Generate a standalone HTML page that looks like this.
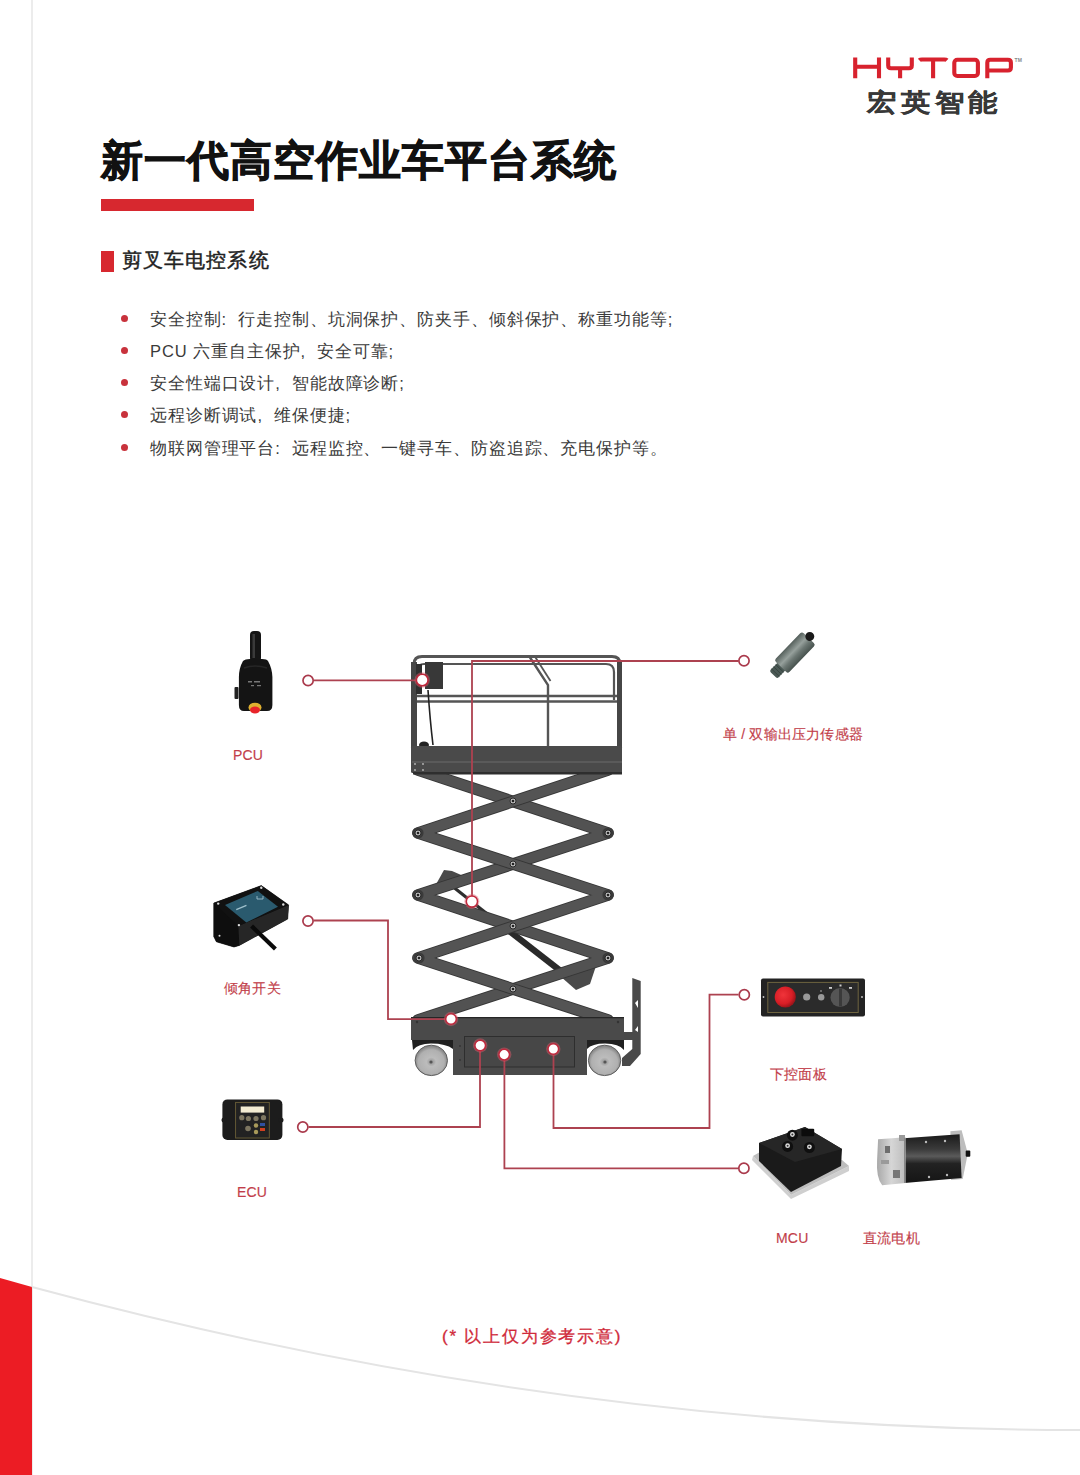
<!DOCTYPE html>
<html><head><meta charset="utf-8">
<style>
html,body{margin:0;padding:0;background:#fff;}
body{width:1080px;height:1475px;position:relative;overflow:hidden;font-family:"Liberation Sans",sans-serif;}
.abs{position:absolute;white-space:nowrap;}
.title{left:101px;top:140px;font-size:42px;line-height:42px;font-weight:bold;color:#111;letter-spacing:1px;-webkit-text-stroke:0.9px #111;}
.bar{left:101px;top:199px;width:153px;height:12px;background:#d7282f;}
.sq{left:101px;top:251px;width:13px;height:21px;background:#d7282f;}
.sub{left:122px;top:250px;font-size:20px;line-height:20px;color:#222;letter-spacing:1.1px;-webkit-text-stroke:0.45px #222;}
.li{left:150px;font-size:16.5px;line-height:17px;color:#3a3a3a;letter-spacing:0.9px;}
.pu{display:inline-block;width:1em;text-align:left;padding-left:0;box-sizing:border-box;}
.dot{left:121px;width:7px;height:7px;border-radius:50%;background:#c8323c;}
.lbl{font-size:14px;line-height:14px;color:#c23e4a;letter-spacing:0.2px;-webkit-text-stroke:0.15px #c23e4a;}
.logocn{left:867px;top:90.5px;font-size:27px;line-height:27px;color:#383838;font-weight:bold;letter-spacing:4.3px;transform-origin:0 0;transform:scale(1.08,0.92);-webkit-text-stroke:0.2px #383838;}
.note{left:442px;top:1328px;font-size:17px;line-height:17px;color:#d02a3a;letter-spacing:1.8px;-webkit-text-stroke:0.3px #d02a3a;}
</style></head>
<body>
<!-- page decorations -->
<svg class="abs" style="left:0;top:0" width="1080" height="1475">
  <line x1="32" y1="0" x2="32" y2="1475" stroke="#e6e6e6" stroke-width="1.5"/>
  <polygon points="0,1278 32,1287 32,1475 0,1475" fill="#ec1c24"/>
  <path d="M32,1287 Q562,1430 1080,1430" fill="none" stroke="#e4e4e4" stroke-width="2"/>
</svg>

<!-- logo -->
<svg class="abs" style="left:0;top:0" width="1080" height="130" viewBox="0 0 1080 130">
  <g fill="none" stroke="#d8222e" stroke-width="4.1" stroke-linecap="butt">
    <path d="M855.2,57.6 V78.3 M879,57.6 V78.3 M855.2,66.8 H879"/>
    <path d="M888.2,57.6 V65.5 Q888.2,68.2 891,68.2 H909 Q911.8,68.2 911.8,65.5 V57.6 M900.1,68.2 V78.3"/>
    <path d="M919.3,60.2 Q920,59.5 922,59.5 H944.3 Q946.3,59.5 947,60.2 M933.1,59.5 V78.3"/>
    <rect x="954.3" y="59.8" width="23.6" height="16.2" rx="3"/>
    <path d="M987.3,78.3 V62.8 Q987.3,59.8 990.3,59.8 H1007.9 Q1010.9,59.8 1010.9,62.8 V67.5 Q1010.9,70.5 1007.9,70.5 H987.3"/>
  </g>
  <text x="1014.6" y="62" font-family="Liberation Sans" font-size="5" font-weight="bold" fill="#888">TM</text>
</svg>
<div class="abs logocn">宏英智能</div>

<div class="abs title">新一代高空作业车平台系统</div>
<div class="abs bar"></div>
<div class="abs sq"></div>
<div class="abs sub">剪叉车电控系统</div>

<div class="abs dot" style="top:315px"></div>
<div class="abs li" style="top:311px">安全控制<span class="pu">:</span>行走控制、坑洞保护、防夹手、倾斜保护、称重功能等<span class="pu">;</span></div>
<div class="abs dot" style="top:347px"></div>
<div class="abs li" style="top:343px">PCU 六重自主保护<span class="pu">,</span>安全可靠<span class="pu">;</span></div>
<div class="abs dot" style="top:379px"></div>
<div class="abs li" style="top:375px">安全性端口设计<span class="pu">,</span>智能故障诊断<span class="pu">;</span></div>
<div class="abs dot" style="top:411px"></div>
<div class="abs li" style="top:407px">远程诊断调试<span class="pu">,</span>维保便捷<span class="pu">;</span></div>
<div class="abs dot" style="top:444px"></div>
<div class="abs li" style="top:440px">物联网管理平台<span class="pu">:</span>远程监控、一键寻车、防盗追踪、充电保护等。</div>

<!-- diagram -->
<svg class="abs" style="left:0;top:0" width="1080" height="1475" viewBox="0 0 1080 1475">
<defs>
  <radialGradient id="whl" cx="0.5" cy="0.55" r="0.5">
    <stop offset="0" stop-color="#909090"/><stop offset="0.3" stop-color="#bcbcbc"/><stop offset="0.8" stop-color="#b0b0b0"/><stop offset="1" stop-color="#8a8a8a"/>
  </radialGradient>
</defs>
<!-- LIFT -->
<g id="lift">
  <!-- hydraulic cylinder -->
  <line x1="452" y1="886" x2="515" y2="936" stroke="#2e2e2e" stroke-width="3.2"/>
  <line x1="508" y1="930" x2="576" y2="983" stroke="#2a2a2a" stroke-width="6.5"/>
  <polygon points="434,888 444,870 452,871 468,878 458,884" fill="#4a4a4a"/>
  <polygon points="560,976 598,960 590,984 576,990" fill="#4a4a4a"/>
  <!-- scissor arms -->
  <polyline points="418,770 608,833 418,895 608,958 418,1020" fill="none" stroke="#363636" stroke-width="11.8" stroke-linejoin="round" stroke-linecap="round"/>
  <polyline points="418,770 608,833 418,895 608,958 418,1020" fill="none" stroke="#525252" stroke-width="9.8" stroke-linejoin="round" stroke-linecap="round"/>
  <polyline points="608,770 418,833 608,895 418,958 608,1020" fill="none" stroke="#363636" stroke-width="11.8" stroke-linejoin="round" stroke-linecap="round"/>
  <polyline points="608,770 418,833 608,895 418,958 608,1020" fill="none" stroke="#545454" stroke-width="9.8" stroke-linejoin="round" stroke-linecap="round"/>
  <!-- pivots -->
  <g fill="#3a3a3a">
    <circle cx="418" cy="833" r="5.6"/><circle cx="418" cy="895" r="5.6"/><circle cx="419" cy="958" r="5.6"/>
    <circle cx="608" cy="833" r="5.6"/><circle cx="608" cy="895" r="5.6"/><circle cx="608" cy="958" r="5.6"/>
  </g>
  <g fill="#bdbdbd" stroke="#2a2a2a" stroke-width="1">
    <circle cx="513" cy="801" r="3"/><circle cx="513" cy="864" r="3"/><circle cx="513" cy="926" r="3"/><circle cx="513" cy="989" r="3"/>
    <circle cx="418" cy="833" r="3"/><circle cx="418" cy="895" r="3"/><circle cx="419" cy="958" r="3"/>
    <circle cx="608" cy="833" r="3"/><circle cx="608" cy="895" r="3"/><circle cx="608" cy="958" r="3"/>
  </g>
  <g fill="#222"><circle cx="513" cy="801" r="1.3"/><circle cx="513" cy="864" r="1.3"/><circle cx="513" cy="926" r="1.3"/><circle cx="513" cy="989" r="1.3"/>
    <circle cx="418" cy="833" r="1.3"/><circle cx="418" cy="895" r="1.3"/><circle cx="419" cy="958" r="1.3"/>
    <circle cx="608" cy="833" r="1.3"/><circle cx="608" cy="895" r="1.3"/><circle cx="608" cy="958" r="1.3"/></g>
  <!-- platform railings -->
  <g fill="none" stroke="#555" stroke-width="3">
    <path d="M414,748 V664 Q414,656.5 422,656.5 H612 Q620,656.5 620,664 V748"/>
    <path d="M418,680 V670 Q418,664 424,664 H606 Q614,664 614,672 V700" stroke-width="2.2"/>
    <line x1="414" y1="696" x2="620" y2="696" stroke-width="2.5"/>
    <line x1="414" y1="701.5" x2="620" y2="701.5" stroke-width="2.5"/>
    <path d="M530,657.5 L548,685 V746" stroke-width="2.4"/>
    <path d="M535.5,657.5 L550.5,681" stroke-width="1.8"/>
  </g>
  <!-- PCU on platform -->
  <rect x="425" y="662" width="18" height="27" fill="#383838"/>
  <rect x="411" y="662" width="6" height="86" fill="#464646"/><rect x="617" y="662" width="5" height="86" fill="#464646"/><rect x="416" y="664" width="6" height="30" fill="#2e2e2e"/>
  <path d="M428,690 Q430,720 433,745" stroke="#222" stroke-width="1.6" fill="none"/>
  <ellipse cx="424" cy="745" rx="5" ry="3.5" fill="#222"/>
  <!-- deck -->
  <rect x="411" y="746" width="211" height="27" fill="#4a4a4a" rx="1.5"/>
  <line x1="412" y1="762" x2="622" y2="762" stroke="#6a6a6a" stroke-width="1"/>
  <rect x="413" y="772" width="209" height="2.5" fill="#2e2e2e"/>
  <g fill="#bbb"><circle cx="415" cy="764" r="0.9"/><circle cx="423" cy="764" r="0.9"/><circle cx="415" cy="770" r="0.9"/><circle cx="423" cy="770" r="0.9"/></g>
  <!-- chassis -->
  <path d="M411,1017 H624 V1040 H587 V1075 H453 V1040 H411 Z" fill="#4a4a4a"/>
  <line x1="411" y1="1017.6" x2="624" y2="1017.6" stroke="#262626" stroke-width="1.4"/>
  <rect x="464.5" y="1036.5" width="110" height="30.5" fill="#474747" stroke="#2e2e2e" stroke-width="1"/>
  <g fill="#333"><circle cx="417" cy="1022" r="1.2"/><circle cx="618" cy="1022" r="1.2"/><circle cx="460" cy="1046" r="0.9"/><circle cx="460" cy="1060" r="0.9"/></g>
  <!-- tow bar -->
  <path d="M632.3,978 L640.7,981 V1054 L630,1066 H622 V1058 L632.3,1049 V1040 H624 V1032 H632.3 Z" fill="#494949"/>
  <g fill="#fff"><polygon points="635,1003 638,1000 638,1008"/><polygon points="635,1030 638,1026 638,1032"/></g>
  <!-- wheels -->
  <path d="M412,1040 H453 V1049 Q446,1043.5 431,1043.5 Q418,1043.5 413,1050 Z" fill="#202020"/>
  <ellipse cx="431.3" cy="1060.4" rx="16.2" ry="15.2" fill="url(#whl)" stroke="#5e5e5e" stroke-width="1"/>
  <circle cx="431" cy="1062" r="1.6" fill="#555"/>
  <path d="M587,1040 H624 V1050 Q619,1043.5 605,1043.5 Q592,1043.5 587,1049 Z" fill="#202020"/>
  <ellipse cx="604.6" cy="1060.4" rx="16.2" ry="15.2" fill="url(#whl)" stroke="#5e5e5e" stroke-width="1"/>
  <circle cx="605" cy="1062" r="1.6" fill="#555"/>
</g>
<!-- RED LEADER LINES -->
<g fill="none" stroke="#ad4250" stroke-width="1.8">
  <line x1="313.5" y1="680.4" x2="422" y2="680.4"/>
  <polyline points="738.5,661 472,661 472,901"/>
  <polyline points="313.5,920.5 388,920.5 388,1019.2 451,1019.2"/>
  <polyline points="738.5,994.7 709.5,994.7 709.5,1128 553.5,1128 553.5,1049"/>
  <polyline points="308.5,1127 480,1127 480,1046"/>
  <polyline points="738.5,1168.3 504.4,1168.3 504.4,1055"/>
</g>
<!-- open markers -->
<g fill="#fff" stroke="#aa3a4c" stroke-width="1.7">
  <circle cx="308.1" cy="680.5" r="5.1"/>
  <circle cx="744" cy="660.8" r="5.1"/>
  <circle cx="308" cy="921" r="5.1"/>
  <circle cx="744.3" cy="994.7" r="5.1"/>
  <circle cx="302.8" cy="1127" r="5.1"/>
  <circle cx="743.9" cy="1168.3" r="5.1"/>
</g>
<!-- on-lift markers -->
<g fill="#d86070" opacity="0.45">
  <circle cx="422.2" cy="680" r="7.8"/><circle cx="471.9" cy="901.5" r="7.5"/><circle cx="451" cy="1019" r="7.2"/>
  <circle cx="480.2" cy="1045.5" r="7.2"/><circle cx="504.2" cy="1054.6" r="7.2"/><circle cx="553.3" cy="1049" r="7.2"/>
</g>
<g fill="#fff" stroke="#c0283c" stroke-width="1.5">
  <circle cx="422.2" cy="680" r="5.8"/>
  <circle cx="471.9" cy="901.5" r="5.6"/>
  <circle cx="451" cy="1019" r="5.3"/>
  <circle cx="480.2" cy="1045.5" r="5.3"/>
  <circle cx="504.2" cy="1054.6" r="5.3"/>
  <circle cx="553.3" cy="1049" r="5.3"/>
</g>
</svg>

<!-- products -->
<svg class="abs" style="left:0;top:0" width="1080" height="1475" viewBox="0 0 1080 1475">
<defs>
  <linearGradient id="metal" x1="0" y1="0" x2="0" y2="1">
    <stop offset="0" stop-color="#55605c"/><stop offset="0.4" stop-color="#96a09c"/><stop offset="0.65" stop-color="#6c7773"/><stop offset="1" stop-color="#47524e"/>
  </linearGradient>
  <linearGradient id="mbody" x1="0" y1="0" x2="0" y2="1">
    <stop offset="0" stop-color="#1a1a1a"/><stop offset="0.3" stop-color="#3a3a3a"/><stop offset="0.45" stop-color="#5a5a5a"/><stop offset="0.6" stop-color="#222"/><stop offset="1" stop-color="#151515"/>
  </linearGradient>
  <linearGradient id="mcap" x1="0" y1="0" x2="1" y2="0"><stop offset="0" stop-color="#a8a8a8"/><stop offset="0.5" stop-color="#d6d6d6"/><stop offset="1" stop-color="#bdbdbd"/></linearGradient>
  <radialGradient id="redbtn" cx="0.4" cy="0.4" r="0.6">
    <stop offset="0" stop-color="#f0343a"/><stop offset="0.7" stop-color="#d81e26"/><stop offset="1" stop-color="#a0141a"/>
  </radialGradient>
</defs>
<!-- PCU joystick -->
<g>
  <rect x="250" y="631" width="11" height="31" rx="4" fill="#151515"/>
  <rect x="252.5" y="634" width="2.5" height="24" fill="#3a3a3a"/>
  <path d="M243,661 Q245,659 250,659 H262 Q267,659 268,661 Q272,668 272.4,677 V705 Q272.4,711 267,711 H244 Q238.9,711 238.9,705 V677 Q239,668 243,661 Z" fill="#141414"/>
  <path d="M244,668 Q255,664 267,668" stroke="#262626" stroke-width="1.5" fill="none"/>
  <g fill="#777"><rect x="248" y="681" width="4" height="1.5"/><rect x="254" y="681" width="6" height="1.5"/><rect x="251" y="685" width="3" height="1.2"/><rect x="257" y="685" width="4" height="1.2"/></g>
  <rect x="234.5" y="687" width="4" height="12" rx="1" fill="#222"/>
  <ellipse cx="255" cy="707.5" rx="6.5" ry="4.8" fill="#e0b030"/>
  <ellipse cx="255" cy="710" rx="5" ry="3.4" fill="#e8242a"/>
</g>
<!-- pressure sensor -->
<g transform="translate(793.5,654) rotate(-46)">
  <rect x="-29" y="-5.5" width="13" height="11" rx="2" fill="#4a5854"/>
  <g stroke="#34403c" stroke-width="0.8"><line x1="-26" y1="-5.5" x2="-26" y2="5.5"/><line x1="-23" y1="-5.5" x2="-23" y2="5.5"/><line x1="-20" y1="-5.5" x2="-20" y2="5.5"/></g>
  <rect x="-18" y="-9.5" width="40" height="19" rx="2.5" fill="url(#metal)"/>
  <circle cx="24" cy="-0.5" r="4.5" fill="#1a1a1a"/>
</g>
<!-- tilt switch -->
<g>
  <polygon points="213.8,903.1 261.3,885.6 288.6,904.9 287.7,919 239.3,945.4 234,947 216.4,941.8 213.8,936.6" fill="#111" stroke="#111" stroke-width="0.6"/>
  <polygon points="213.8,903.1 238.4,926 239.3,945.4 234,947 216.4,941.8 213.8,936.6" fill="#0e0e0e"/>
  <polygon points="238.4,926 288.6,904.9 287.7,919 239.3,945.4" fill="#262626"/>
  <polygon points="213.8,903.1 261.3,885.6 288.6,904.9 238.4,926" fill="#111"/>
  <polygon points="225,904.9 257.8,891 278,906.7 246.3,922.5" fill="#2a5a6e"/>
  <g fill="#ddd"><circle cx="218.2" cy="903.6" r="1.2"/><circle cx="261.3" cy="887.8" r="1.2"/><circle cx="283.3" cy="904.5" r="1.2"/><circle cx="238.9" cy="925.1" r="1.2"/><circle cx="219.5" cy="935.7" r="1"/></g>
  <g fill="#9fc0cc"><rect x="236" y="907" width="11" height="1.4" transform="rotate(-22 241 908)"/></g>
  <path d="M257,896 v3 h6 v-3" stroke="#9fc0cc" stroke-width="0.9" fill="none"/>
  <line x1="251.6" y1="926" x2="275.4" y2="948.9" stroke="#0a0a0a" stroke-width="4.2"/>
</g>
<!-- lower control panel -->
<g>
  <rect x="761" y="978.5" width="104" height="38" rx="2" fill="#232323"/>
  <rect x="767.8" y="982.4" width="90.4" height="30.1" fill="#2b2b2b" stroke="#6e6440" stroke-width="1"/>
  <circle cx="785.3" cy="997" r="10.6" fill="url(#redbtn)"/>
  <circle cx="806.7" cy="997" r="3.6" fill="#9a9a9a"/>
  <circle cx="821.2" cy="997.3" r="3.2" fill="#9a9a9a"/>
  <circle cx="821" cy="991" r="0.8" fill="#bbb"/>
  <circle cx="840.1" cy="997.5" r="9.6" fill="#555"/>
  <rect x="839" y="988.5" width="3" height="18" fill="#3a3a3a"/>
  <g fill="#ccc"><rect x="829" y="987" width="3" height="1.8"/><rect x="839.5" y="984.5" width="2" height="2"/><rect x="849" y="987" width="3" height="1.8"/></g>
  <circle cx="763.5" cy="997" r="0.9" fill="#ccc"/><circle cx="862" cy="997" r="0.9" fill="#ccc"/>
</g>
<!-- ECU -->
<g>
  <rect x="222.4" y="1099.4" width="60" height="40.6" rx="5" fill="#1c1c1c"/>
  <circle cx="224" cy="1120" r="2.5" fill="#1c1c1c"/><circle cx="281" cy="1120" r="2.5" fill="#1c1c1c"/>
  <rect x="235.6" y="1102.4" width="33.7" height="35.6" fill="#222" stroke="#6b5f38" stroke-width="0.9"/>
  <rect x="240.7" y="1106.5" width="23.5" height="6.1" fill="#f3ecd2"/>
  <g fill="#7d7660"><circle cx="241.8" cy="1117.7" r="2.6"/><circle cx="248.4" cy="1118.5" r="2.6"/><circle cx="256" cy="1118.5" r="2.6"/><circle cx="263.5" cy="1117.7" r="2.6"/><circle cx="248" cy="1128.5" r="2.8"/></g>
  <g fill="#a89a5a"><circle cx="256" cy="1125.5" r="2.2"/><circle cx="256" cy="1132" r="2.2"/></g>
  <rect x="260" y="1123" width="5" height="3" fill="#3050a0"/>
  <rect x="260" y="1128" width="5" height="3" fill="#d04020"/>
</g>
<!-- MCU -->
<g>
  <polygon points="753,1156 791,1195 849,1166 849,1171 791,1199 752,1160" fill="#cfcfcf"/>
  <polygon points="753,1156 760,1152 842,1160 849,1166 791,1195" fill="#bdbdbd"/>
  <polygon points="759,1143 805,1127 842,1149 841,1166 791,1192 759,1161" fill="#1a1a1a"/>
  <polygon points="759,1143 805,1127 842,1149 795,1162" fill="#262626"/>
  <rect x="801.4" y="1128.8" width="12.8" height="7.5" rx="1" fill="#0c0c0c"/>
  <g fill="#0f0f0f"><circle cx="792.4" cy="1135.2" r="5.5"/><circle cx="787.6" cy="1146.4" r="5.5"/><circle cx="809.4" cy="1147.5" r="5.5"/></g>
  <g fill="#ddd"><circle cx="792.4" cy="1134.5" r="2.4"/><circle cx="787.6" cy="1145.7" r="2.4"/><circle cx="809.4" cy="1146.8" r="2.4"/></g>
  <g fill="#333"><circle cx="792.4" cy="1134.5" r="1"/><circle cx="787.6" cy="1145.7" r="1"/><circle cx="809.4" cy="1146.8" r="1"/></g>
</g>
<!-- DC motor -->
<g>
  <polygon points="950.4,1131.2 961.6,1130.2 967.8,1153.6 962.7,1179.1 951,1180" fill="#bdbdbd"/>
  <rect x="965.7" y="1150.5" width="4.6" height="6.2" rx="1" fill="#111"/>
  <path d="M903.6,1138.3 L959.6,1134.3 L961.6,1178 L904.6,1183.1 Z" fill="url(#mbody)"/>
  <g fill="#bbb"><circle cx="926" cy="1142" r="1.2"/><circle cx="945" cy="1141" r="1.2"/><circle cx="929" cy="1177" r="1.2"/><circle cx="947" cy="1175" r="1.2"/></g>
  <path d="M878.1,1139.3 L905.6,1137.3 V1183.1 L882.2,1185.2 Q876,1178 877.1,1160 Z" fill="url(#mcap)"/>
  <rect x="885" y="1146" width="5" height="7" fill="#6e6e6e"/>
  <rect x="881" y="1160" width="8" height="4" fill="#9a9a9a"/>
  <rect x="893" y="1170" width="7" height="8" fill="#777"/>
  <rect x="899" y="1135" width="6" height="6" fill="#9a9a9a"/>
  <line x1="904.5" y1="1138" x2="904.5" y2="1183" stroke="#888" stroke-width="1"/>
</g>
</svg>

<div class="abs lbl" style="left:233px;top:748px">PCU</div>
<div class="abs lbl" style="left:723px;top:727px">单 / 双输出压力传感器</div>
<div class="abs lbl" style="left:224px;top:981px">倾角开关</div>
<div class="abs lbl" style="left:770px;top:1067px">下控面板</div>
<div class="abs lbl" style="left:237px;top:1185px">ECU</div>
<div class="abs lbl" style="left:776px;top:1231px">MCU</div>
<div class="abs lbl" style="left:863px;top:1231px">直流电机</div>

<div class="abs note">(* 以上仅为参考示意)</div>
</body></html>
